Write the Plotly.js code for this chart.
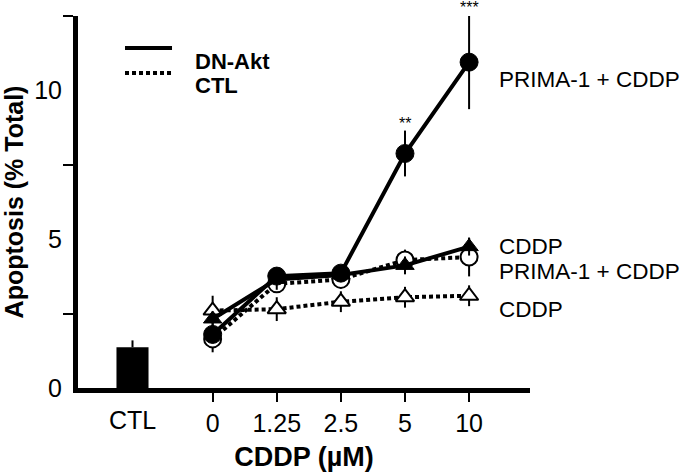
<!DOCTYPE html>
<html>
<head>
<meta charset="utf-8">
<script src="https://cdn.plot.ly/plotly-3.0.1.min.js"></script>
<style>html,body{margin:0;padding:0;background:#fff;}#chart{width:685px;height:474px;}</style>
</head>
<body>
<div id="chart"></div>
<script>
// ---- data ----
const doseLabels = ['0', '1.25', '2.5', '5', '10'];
const ctlLabel = 'CTL';
const ctlBarValue = 1.37;
const ctlBarErr = 0.23;

const dnAktPrima = [1.80, 3.76, 3.86, 7.88, 10.95];
const dnAktPrimaErr = [0.3, 0.25, 0.2, 0.77, 1.58];
const dnAktCddp = [2.32, 3.65, 3.80, 4.12, 4.75];
const dnAktCddpErr = [0.25, 0.35, 0.2, 0.3, 0.3];
const ctlPrima = [1.65, 3.50, 3.65, 4.30, 4.40];
const ctlPrimaErr = [0.45, 0.3, 0.3, 0.35, 0.65];
const ctlCddp = [2.60, 2.65, 2.90, 3.05, 3.10];
const ctlCddpErr = [0.5, 0.4, 0.35, 0.35, 0.35];

const yTickVals = [0, 5, 10];
const yMinorStart = 2.5;
const yMinorStep = 5;
const stars = ['', '', '', '**', '***'];

// ---- layout helpers ----
const xs = doseLabels.map((_, i) => i);
const ctlX = -1.25;
const Y_MAX = 12.5;
const FONT = 'Liberation Sans, Arial, Helvetica, sans-serif';

function errs(arr) {
  return {type: 'data', array: arr, visible: true, color: '#000', thickness: 2, width: 0};
}

const traces = [
  {type: 'bar', x: [ctlX], y: [ctlBarValue], width: 0.5,
   marker: {color: '#000', line: {width: 0}},
   error_y: {type: 'data', array: [ctlBarErr], arrayminus: [0], visible: true, color: '#000', thickness: 2, width: 0},
   showlegend: false, hoverinfo: 'skip'},
  {type: 'scatter', mode: 'lines+markers', x: xs, y: ctlCddp, error_y: errs(ctlCddpErr),
   line: {color: '#000', width: 4, dash: '4px,3px'},
   marker: {symbol: 'triangle-up', size: 16, color: '#fff', line: {color: '#000', width: 2}},
   cliponaxis: false, showlegend: false},
  {type: 'scatter', mode: 'lines+markers', x: xs, y: ctlPrima, error_y: errs(ctlPrimaErr),
   line: {color: '#000', width: 4, dash: '4px,3px'},
   marker: {symbol: 'circle', size: 17, color: '#fff', line: {color: '#000', width: 2}},
   cliponaxis: false, showlegend: false},
  {type: 'scatter', mode: 'lines+markers', x: xs, y: dnAktCddp, error_y: errs(dnAktCddpErr),
   line: {color: '#000', width: 4},
   marker: {symbol: 'triangle-up', size: 16, color: '#000', line: {color: '#000', width: 1}},
   cliponaxis: false, showlegend: false},
  {type: 'scatter', mode: 'lines+markers', x: xs, y: dnAktPrima, error_y: errs(dnAktPrimaErr),
   line: {color: '#000', width: 4},
   marker: {symbol: 'circle', size: 18, color: '#000', line: {color: '#000', width: 1}},
   cliponaxis: false, showlegend: false}
];

const annotations = [
  {xref: 'x', yref: 'paper', x: ctlX, y: 0, yshift: -32, text: ctlLabel, showarrow: false,
   font: {family: FONT, size: 25, color: '#000'}, yanchor: 'middle'},
  {xref: 'paper', yref: 'y', x: 0.927, y: 10.36, xanchor: 'left', text: 'PRIMA-1 + CDDP', showarrow: false,
   font: {family: FONT, size: 22.5, color: '#000'}},
  {xref: 'paper', yref: 'y', x: 0.927, y: 4.74, xanchor: 'left', text: 'CDDP', showarrow: false,
   font: {family: FONT, size: 22.5, color: '#000'}},
  {xref: 'paper', yref: 'y', x: 0.927, y: 3.93, xanchor: 'left', text: 'PRIMA-1 + CDDP', showarrow: false,
   font: {family: FONT, size: 22.5, color: '#000'}},
  {xref: 'paper', yref: 'y', x: 0.927, y: 2.63, xanchor: 'left', text: 'CDDP', showarrow: false,
   font: {family: FONT, size: 22.5, color: '#000'}},
  {xref: 'paper', yref: 'paper', x: 0.254, y: 0.9155, xanchor: 'left', text: '<b>DN-Akt</b>', showarrow: false,
   font: {family: FONT, size: 22, color: '#000'}},
  {xref: 'paper', yref: 'paper', x: 0.254, y: 0.852, xanchor: 'left', text: '<b>CTL</b>', showarrow: false,
   font: {family: FONT, size: 22, color: '#000'}}
];
stars.forEach((s, i) => {
  if (!s) return;
  const top = dnAktPrima[i] + dnAktPrimaErr[i];
  annotations.push({xref: 'x', yref: 'paper', x: xs[i], y: top / Y_MAX, yanchor: 'bottom', yshift: -3,
    text: s, showarrow: false, font: {family: FONT, size: 16, color: '#000'}});
});

const layout = {
  width: 685, height: 474,
  margin: {l: 78, r: 155, t: 16, b: 86},
  paper_bgcolor: '#fff', plot_bgcolor: '#fff',
  font: {family: FONT, color: '#000'},
  showlegend: false,
  xaxis: {
    range: [-2.1, 4.95], showgrid: false, zeroline: false,
    showline: true, linecolor: '#000', linewidth: 5,
    tickmode: 'array', tickvals: xs, ticktext: doseLabels,
    ticks: 'outside', ticklen: 9, tickwidth: 2, tickcolor: '#000',
    tickfont: {family: FONT, size: 25, color: '#000'},
    title: {text: '<b>CDDP (µM)</b>', font: {family: FONT, size: 27, color: '#000'}, standoff: 13}
  },
  yaxis: {
    range: [0, Y_MAX], showgrid: false, zeroline: false,
    showline: true, linecolor: '#000', linewidth: 5,
    tickmode: 'array', tickvals: yTickVals, ticktext: yTickVals.map(String),
    ticks: 'outside', ticklen: 10, tickwidth: 2, tickcolor: 'rgba(0,0,0,0)',
    ticklabelstandoff: -4,
    minor: {tick0: yMinorStart, dtick: yMinorStep, ticks: 'outside', ticklen: 10, tickwidth: 2, tickcolor: '#000', showgrid: false},
    tickfont: {family: FONT, size: 25, color: '#000'},
    title: {text: '<b>Apoptosis (% Total)</b>', font: {family: FONT, size: 25, color: '#000'}, standoff: 6}
  },
  shapes: [
    {type: 'line', xref: 'paper', yref: 'paper', x0: 0.104, x1: 0.208, y0: 0.914, y1: 0.914,
     line: {color: '#000', width: 4}},
    {type: 'line', xref: 'paper', yref: 'paper', x0: 0.104, x1: 0.208, y0: 0.847, y1: 0.847,
     line: {color: '#000', width: 4, dash: '4px,3px'}}
  ],
  annotations: annotations
};

Plotly.newPlot('chart', traces, layout, {staticPlot: true, displayModeBar: false});
</script>
</body>
</html>
